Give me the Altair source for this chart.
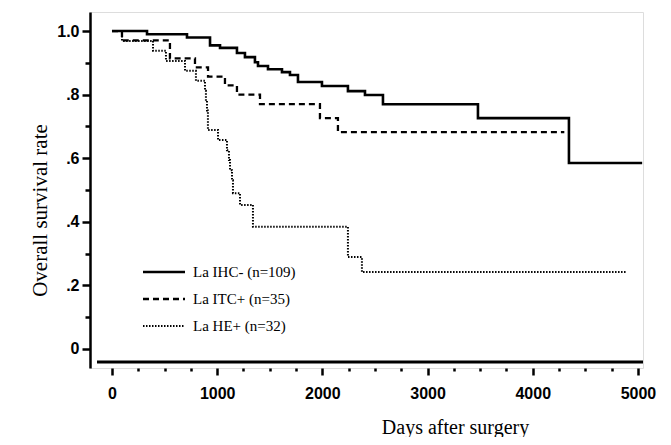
import altair as alt
import pandas as pd

series_names = ["La IHC- (n=109)", "La ITC+ (n=35)", "La HE+ (n=32)"]

days_ihc = [0, 333, 713, 932, 1027, 1188, 1264, 1359, 1388, 1483, 1616, 1692,
            1768, 1996, 2243, 2405, 2576, 3479, 4344, 5040]
surv_ihc = [1.0, 0.99, 0.98, 0.955, 0.947, 0.931, 0.918, 0.902, 0.89, 0.88, 0.871, 0.862,
            0.84, 0.827, 0.811, 0.799, 0.77, 0.726, 0.585, 0.585]

days_itc = [0, 95, 551, 789, 913, 1074, 1188, 1407, 1977, 2148, 4300]
surv_itc = [1.0, 0.971, 0.914, 0.886, 0.857, 0.829, 0.80, 0.77, 0.726, 0.682, 0.682]

days_he = [0, 95, 390, 513, 694, 798, 884, 893, 903, 912, 1008, 1093, 1112, 1122,
           1141, 1150, 1217, 1340, 2243, 2376, 4886]
surv_he = [1.0, 0.969, 0.938, 0.906, 0.875, 0.844, 0.812, 0.781, 0.75, 0.689, 0.657, 0.625,
           0.594, 0.562, 0.531, 0.49, 0.453, 0.384, 0.289, 0.242, 0.242]

x_ticks = list(range(0, 5001, 250))
y_ticks = [round(i * 0.1, 1) for i in range(11)]

rows = []
for name, ds, ss in zip(series_names, [days_ihc, days_itc, days_he], [surv_ihc, surv_itc, surv_he]):
    for d, s in zip(ds, ss):
        rows.append({"series": name, "days": d, "surv": s})
df = pd.DataFrame(rows)
legend_df = pd.DataFrame({"series": series_names})

SANS = "Liberation Sans Narrow, Arial Narrow, Liberation Sans, sans-serif"
SERIF = "Liberation Serif, Times New Roman, serif"
W, H = 553, 356

dash_scale = alt.Scale(domain=series_names, range=[[1, 0], [6, 4], [1.5, 1.5]])
width_scale = alt.Scale(domain=series_names, range=[2.6, 2.0, 1.5])

x_axis = alt.Axis(
    values=x_ticks,
    labelExpr="datum.value % 1000 == 0 ? format(datum.value, 'd') : ''",
    domain=False,
    grid=False,
    tickSize={"condition": {"test": "datum.value % 1000 == 0", "value": 7}, "value": 3},
    tickWidth=2.5,
    tickColor="black",
    labelFont=SANS,
    labelFontSize=16,
    labelFontWeight="bold",
    labelColor="black",
    labelPadding=10,
    labelOverlap=False,
    title="Days after surgery",
    titleFont=SERIF,
    titleFontSize=20,
    titleFontWeight="normal",
    titleColor="black",
    titleX=365,
    titleY=59,
    titleAlign="center",
    titleBaseline="middle",
)

y_axis = alt.Axis(
    values=y_ticks,
    labelExpr="round(datum.value*10) % 2 == 1 ? '' : (datum.value == 1 ? '1.0' : (datum.value == 0 ? '0' : '.' + round(datum.value*10)))",
    domain=True,
    domainWidth=2.5,
    domainColor="black",
    grid=False,
    tickSize={"condition": {"test": "round(datum.value*10) % 2 == 0", "value": 8}, "value": 5},
    tickWidth=2.5,
    tickColor="black",
    labelFont=SANS,
    labelFontSize=16,
    labelFontWeight="bold",
    labelColor="black",
    labelPadding=3,
    labelOverlap=False,
    title="Overall survival rate",
    titleFont=SERIF,
    titleFontSize=21,
    titleFontWeight="normal",
    titleColor="black",
    titleX=-50,
    titleY=198,
    titleAngle=270,
    titleAlign="center",
    titleBaseline="middle",
)

curves = alt.Chart(df).mark_line(interpolate="step-after", color="black").encode(
    x=alt.X("days:Q", scale=alt.Scale(domain=[-209, 5048], nice=False, zero=False), axis=x_axis),
    y=alt.Y("surv:Q", scale=alt.Scale(domain=[-0.06, 1.06], nice=False, zero=False), axis=y_axis),
    strokeDash=alt.StrokeDash("series:N", scale=dash_scale, legend=None),
    strokeWidth=alt.StrokeWidth("series:N", scale=width_scale, legend=None),
    detail="series:N",
)

x_line = alt.Chart(legend_df.head(1)).mark_rule(color="black", strokeWidth=3).encode(
    x=alt.value(7), x2=alt.value(W), y=alt.value(H - 6)
)

legend_y = alt.Y("series:N", scale=alt.Scale(type="point", domain=series_names, range=[260, 314], padding=0), axis=None)

legend_lines = alt.Chart(legend_df).mark_rule(color="black").encode(
    x=alt.value(53), x2=alt.value(95),
    y=legend_y,
    strokeDash=alt.StrokeDash("series:N", scale=dash_scale, legend=None),
    strokeWidth=alt.StrokeWidth("series:N", scale=width_scale, legend=None),
)

legend_text = alt.Chart(legend_df).mark_text(
    align="left", baseline="middle", font=SERIF, fontSize=15, color="black"
).encode(
    x=alt.value(103),
    y=legend_y,
    text="series:N",
)

legend_layer = alt.layer(legend_lines, legend_text)

chart = alt.layer(curves, x_line, legend_layer).resolve_scale(y="independent").properties(
    width=W, height=H,
    autosize=alt.AutoSizeParams(type="none"),
    padding={"left": 82, "top": 4, "right": 20, "bottom": 69},
).configure_view(stroke=None).configure(background="white")

chart.save("out.html", embed_options={"renderer": "svg", "actions": False})
